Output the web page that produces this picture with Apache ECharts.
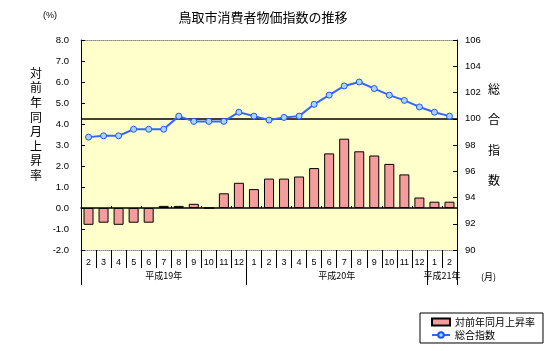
<!DOCTYPE html>
<html><head><meta charset="utf-8">
<script src="https://cdn.jsdelivr.net/npm/echarts@6/dist/echarts.min.js"></script>
<style>html,body{margin:0;padding:0;background:#fff}#c{width:548px;height:351px}</style>
</head><body><div id="c"></div>
<script>
const months = ['2','3','4','5','6','7','8','9','10','11','12','1','2','3','4','5','6','7','8','9','10','11','12','1','2'];
const yoyRate = [-0.8,-0.7,-0.8,-0.7,-0.7,0.1,0.1,0.2,0.0,0.7,1.2,0.9,1.4,1.4,1.5,1.9,2.6,3.3,2.7,2.5,2.1,1.6,0.5,0.3,0.3];
const cpiIndex = [98.6,98.7,98.7,99.2,99.2,99.2,100.2,99.8,99.8,99.8,100.5,100.2,99.9,100.1,100.2,101.1,101.8,102.5,102.8,102.3,101.8,101.4,100.9,100.5,100.2];
const yearLabels = ['平成19年','平成20年','平成21年'];
const yearLabelPos = [5.5, 17, 24];
const yearBounds = [0, 11, 23, 25];
const seriesNames = ['対前年同月上昇率','総合指数'];

const FONT = "'Liberation Sans','Noto Sans CJK JP',sans-serif";
const JP = "'Noto Sans CJK JP',sans-serif";
const chart = echarts.init(document.getElementById('c'), null, {renderer:'canvas'});
chart.setOption({
  animation:false,
  textStyle:{fontFamily:FONT},
  title:{text:'鳥取市消費者物価指数の推移', left:258, textAlign:'center', top:6,
    textStyle:{fontSize:13, fontWeight:'normal', color:'#000', fontFamily:JP}},
  grid:{left:81, right:91, top:40, bottom:101, show:true, backgroundColor:'#FFFFCC', borderWidth:0},
  legend:{orient:'vertical', left:420, top:313,
    data:[{name:seriesNames[0], icon:'rect'}, {name:seriesNames[1]}],
    borderColor:'#000', borderWidth:1, borderRadius:0,
    padding:[4,8,3,11], itemWidth:18, itemHeight:7, itemGap:3,
    textStyle:{fontSize:10, color:'#000', fontFamily:JP}},
  xAxis:[
    {type:'category', data:months, position:'bottom',
      axisLine:{onZero:false, lineStyle:{color:'#888', type:'dotted'}},
      axisTick:{show:true, length:18, lineStyle:{color:'#000'}},
      axisLabel:{interval:0, margin:8, fontSize:9, color:'#000'}},
    {type:'category', data:months, position:'bottom',
      axisLine:{onZero:true, onZeroAxisIndex:0, lineStyle:{color:'#000', width:1.5}},
      axisTick:{show:true, inside:true, length:2, lineStyle:{color:'#000'}},
      axisLabel:{show:false}},
    {type:'value', min:0, max:25, position:'bottom',
      axisLine:{show:false, onZero:false}, splitLine:{show:false},
      axisTick:{show:true, customValues:yearBounds, length:35, lineStyle:{color:'#000'}},
      axisLabel:{customValues:yearLabelPos, formatter:v=>yearLabels[yearLabelPos.indexOf(v)] || '',
        margin:21, fontSize:9, color:'#000', fontFamily:JP}},
    {type:'category', data:months, position:'top',
      axisLine:{onZero:false, lineStyle:{color:'#888', type:'dotted'}},
      axisTick:{show:false}, axisLabel:{show:false}}
  ],
  yAxis:[
    {type:'value', min:-2, max:8, interval:1, position:'left',
      axisLine:{show:true, onZero:false, lineStyle:{color:'#000'}},
      axisTick:{show:true, inside:true, length:4, lineStyle:{color:'#000'}},
      axisLabel:{formatter:v=>v.toFixed(1), fontSize:9.5, color:'#000', margin:12},
      splitLine:{show:false}},
    {type:'value', min:90, max:106, interval:2, position:'right',
      axisLine:{show:true, onZero:false, lineStyle:{color:'#000'}},
      axisTick:{show:true, inside:true, length:4, lineStyle:{color:'#000'}},
      axisLabel:{fontSize:9.5, color:'#000', margin:8},
      splitLine:{show:false}}
  ],
  graphic:[
    {type:'text', left:43, top:11, style:{text:'(%)', fontSize:9, fill:'#000', fontFamily:FONT}},
    {type:'text', left:30, top:66, style:{text:'対\n前\n年\n同\n月\n上\n昇\n率', fontSize:12, lineHeight:14.6, fill:'#000', fontFamily:JP}},
    {type:'text', left:488, top:74, style:{text:'総\n合\n指\n数', fontSize:12, lineHeight:30.5, fill:'#000', fontFamily:JP}},
    {type:'text', left:481, top:272, style:{text:'(月)', fontSize:9, fill:'#000', fontFamily:JP}}
  ],
  series:[
    {name:seriesNames[0], type:'bar', xAxisIndex:0, yAxisIndex:0, data:yoyRate, barWidth:10,
      itemStyle:{color:'#F59D9D', borderColor:'#000', borderWidth:1}},
    {name:seriesNames[1], type:'line', xAxisIndex:0, yAxisIndex:1, data:cpiIndex, z:5,
      symbol:'circle', symbolSize:6,
      lineStyle:{color:'#3366FF', width:2},
      itemStyle:{color:'#A8D4FF', borderColor:'#2255EE', borderWidth:1},
      markLine:{silent:true, symbol:['none','none'], label:{show:false},
        lineStyle:{color:'#000', type:'solid', width:1.5}, data:[{yAxis:100}]}}
  ]
});
</script></body></html>
